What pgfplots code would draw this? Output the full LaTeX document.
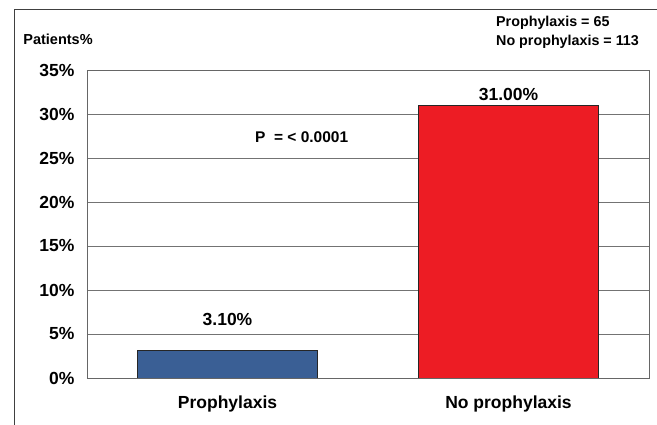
\documentclass[border=0pt]{standalone}
\usepackage{fontspec}
\setmainfont{Liberation Sans}
\usepackage{pgfplots}
\pgfplotsset{compat=1.18}
\definecolor{barblue}{HTML}{3A5F95}
\definecolor{barred}{HTML}{ED1C24}
\begin{document}
\begin{tikzpicture}[x=1pt,y=1pt]
\useasboundingbox (0,0) rectangle (657,425);
\draw[black!75, line width=0.8pt] (14,0) -- (14,416) -- (657,416);
\node[font=\bfseries\fontsize{14.5}{16}\selectfont, anchor=center] at (58,386) {Patients\%};
\node[font=\bfseries\fontsize{14.3}{18.5}\selectfont, anchor=north west, align=left, inner sep=0pt] at (496,409) {Prophylaxis = 65\\No prophylaxis = 113};
\begin{axis}[
  at={(87pt,47pt)}, anchor=south west,
  scale only axis, width=562pt, height=308pt,
  xmin=-0.5, xmax=1.5, ymin=0, ymax=35,
  xtick={0,1}, xticklabels={Prophylaxis, No prophylaxis},
  ytick={0,5,...,35},
  yticklabel={\pgfmathprintnumber{\tick}\%},
  /pgf/number format/assume math mode=true,
  ticklabel style={font=\bfseries\fontsize{17.5}{20}\selectfont},
  yticklabel style={xshift=-9pt},
  xticklabel style={yshift=-14pt},
  major tick length=0pt,
  ymajorgrids, grid style={black!55, line width=0.7pt},
  axis line style={black!60, line width=0.9pt},
  ybar, bar width=180pt, bar shift=0pt,
]
\addplot[fill=barblue, draw=black!85, line width=0.8pt] coordinates {(0,3.1)};
\addplot[fill=barred, draw=black!85, line width=0.8pt] coordinates {(1,31.0)};
\node[font=\bfseries\fontsize{17.5}{20}\selectfont] at (axis cs:0,6.7) {3.10\%};
\node[font=\bfseries\fontsize{17.5}{20}\selectfont] at (axis cs:1,32.2) {31.00\%};
\node[font=\bfseries\fontsize{15.5}{17}\selectfont] at (axis cs:0.264,27.4) {P \ = < 0.0001};
\end{axis}
\end{tikzpicture}
\end{document}
